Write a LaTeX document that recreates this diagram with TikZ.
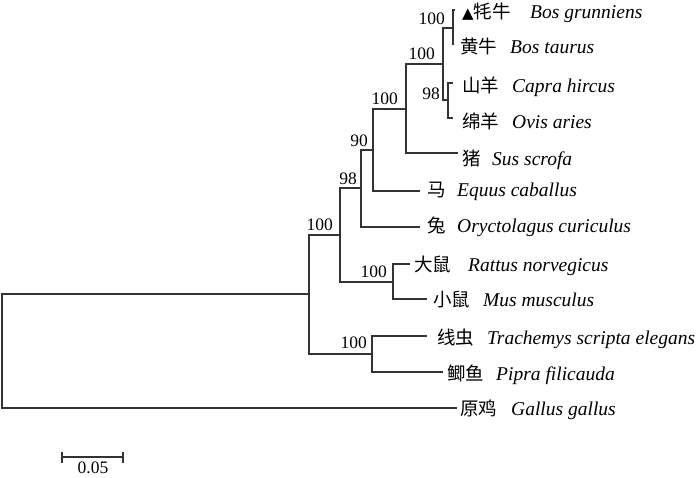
\documentclass[tikz,border=0pt]{standalone}
\usepackage{fontspec}
\setmainfont{Liberation Serif}
\newfontfamily\cjk{Noto Sans CJK SC}
\newfontfamily\symfont{DejaVu Sans}
\begin{document}
\begin{tikzpicture}[x=1pt,y=-1pt,
  branch/.style={draw=black!80,line width=1.6pt},
  cn/.style={anchor=base west,inner sep=0pt,font=\cjk\fontsize{18.5}{20}\selectfont},
  sp/.style={anchor=base west,inner sep=0pt,font=\fontsize{19.5}{22}\selectfont\itshape},
  bs/.style={anchor=base east,inner sep=0pt,font=\fontsize{17.5}{20}\selectfont}]
\useasboundingbox (0,0) rectangle (700,477);
% internal nodes
\coordinate (R) at (2,351);
\coordinate (N1) at (309,294);
\coordinate (N2) at (340,235);
\coordinate (N3) at (361,188);
\coordinate (N4) at (373,150);
\coordinate (N5) at (406,109);
\coordinate (N6) at (443,64);
\coordinate (N7) at (453,28);
\coordinate (N8) at (448,100);
\coordinate (NR) at (393,282);
\coordinate (N9) at (372,354);
% tips
\coordinate (tYak) at (455,10);
\coordinate (tTau) at (453,45);
\coordinate (tGoat) at (453,83);
\coordinate (tSheep) at (453,118);
\coordinate (tPig) at (458,153);
\coordinate (tHorse) at (420,191);
\coordinate (tRabbit) at (420,227);
\coordinate (tRat) at (410,264);
\coordinate (tMouse) at (427,299);
\coordinate (tTrach) at (427,336);
\coordinate (tPipra) at (443,372);
\coordinate (tGallus) at (457,408);
% branches
\draw[branch] (R) |- (N1);
\draw[branch] (R) |- (tGallus);
\draw[branch] (N1) |- (N2);
\draw[branch] (N1) |- (N9);
\draw[branch] (N2) |- (N3);
\draw[branch] (N2) |- (NR);
\draw[branch] (N3) |- (N4);
\draw[branch] (N3) |- (tRabbit);
\draw[branch] (N4) |- (N5);
\draw[branch] (N4) |- (tHorse);
\draw[branch] (N5) |- (N6);
\draw[branch] (N5) |- (tPig);
\draw[branch] (N6) |- (N7);
\draw[branch] (N6) |- (N8);
\draw[branch] (N7) |- (tYak);
\draw[branch] (N7) |- (tTau);
\draw[branch] (N8) |- (tGoat);
\draw[branch] (N8) |- (tSheep);
\draw[branch] (NR) |- (tRat);
\draw[branch] (NR) |- (tMouse);
\draw[branch] (N9) |- (tTrach);
\draw[branch] (N9) |- (tPipra);
% bootstrap values
\node[bs] (b7) at (445,24) {100};
\node[bs] (b6) at (435,59) {100};
\node[bs] (b8) at (440,99) {98};
\node[bs] (b5) at (398,104) {100};
\node[bs] (b4) at (368,146) {90};
\node[bs] (b3) at (357,184) {98};
\node[bs] (b2) at (333,230) {100};
\node[bs] (bR) at (387,277) {100};
\node[bs] (b9) at (367,348) {100};
% leaf labels
\node[cn] (cYak) at (462,18) {{\symfont\fontsize{15}{16}\selectfont ▲}牦牛};
\node[sp] (sYak) at (530,18) {Bos grunniens};
\node[cn] (cTau) at (460,53) {黄牛};
\node[sp] (sTau) at (510,53) {Bos taurus};
\node[cn] (cGoat) at (462,92) {山羊};
\node[sp] (sGoat) at (512,92) {Capra hircus};
\node[cn] (cSheep) at (462,128) {绵羊};
\node[sp] (sSheep) at (512,128) {Ovis aries};
\node[cn] (cPig) at (462,165) {猪};
\node[sp] (sPig) at (492,165) {Sus scrofa};
\node[cn] (cHorse) at (427,196) {马};
\node[sp] (sHorse) at (457,196) {Equus caballus};
\node[cn] (cRabbit) at (427,232) {兔};
\node[sp] (sRabbit) at (457,232) {Oryctolagus curiculus};
\node[cn] (cRat) at (414,271) {大鼠};
\node[sp] (sRat) at (468,271) {Rattus norvegicus};
\node[cn] (cMouse) at (433,306) {小鼠};
\node[sp] (sMouse) at (483,306) {Mus musculus};
\node[cn] (cTrach) at (437,344) {线虫};
\node[sp] (sTrach) at (487,344) {Trachemys scripta elegans};
\node[cn] (cPipra) at (447,380) {鲫鱼};
\node[sp] (sPipra) at (496,380) {Pipra filicauda};
\node[cn] (cGallus) at (460,415) {原鸡};
\node[sp] (sGallus) at (511,415) {Gallus gallus};
% scale bar
\coordinate (sb1) at (62,457);
\coordinate (sb2) at (123,457);
\draw[branch] (sb1) -- (sb2);
\draw[branch] ([yshift=5.5pt]sb1) -- ([yshift=-5.5pt]sb1);
\draw[branch] ([yshift=5.5pt]sb2) -- ([yshift=-5.5pt]sb2);
\node[anchor=base,inner sep=0pt,font=\fontsize{17.5}{20}\selectfont] (sbl) at (93,473) {0.05};
\end{tikzpicture}
\end{document}
